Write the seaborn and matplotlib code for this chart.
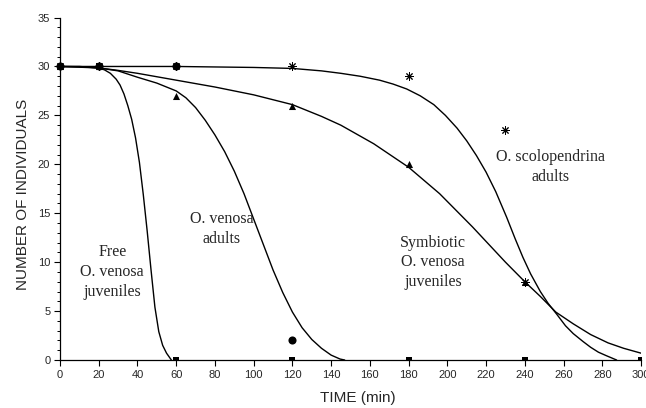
import matplotlib
matplotlib.use('Agg')
import matplotlib.pyplot as plt
from matplotlib.ticker import MultipleLocator
import seaborn as sns

# ── Fitted survival curves ─────────────────────────────────────────────────
free_t = [0, 10, 20, 23, 26, 29, 31, 33, 35, 37, 39, 41, 43, 45, 47, 49, 51, 53, 55, 57.5]
free_n = [30, 30, 29.85, 29.65, 29.3, 28.7, 28.1, 27.2, 26.0, 24.6, 22.7, 20.2, 16.9,
          13.2, 9.2, 5.4, 2.9, 1.5, 0.7, 0]

adult_t = [0, 20, 30, 40, 50, 55, 60, 65, 70, 75, 80, 85, 90, 95, 100, 105, 110, 115,
           120, 125, 130, 135, 140, 144.6, 147]
adult_n = [30, 29.85, 29.55, 28.9, 28.3, 27.9, 27.5, 26.8, 25.8, 24.5, 23.0, 21.3, 19.3,
           17.0, 14.4, 11.8, 9.2, 6.9, 4.9, 3.3, 2.1, 1.2, 0.5, 0.1, 0]

symb_t = [0, 10, 20, 30, 40, 60, 80, 100, 120, 135, 145, 162, 180, 196, 213, 230, 240,
          248, 256, 265, 274, 283, 291, 300]
symb_n = [30, 29.97, 29.85, 29.6, 29.3, 28.6, 27.9, 27.1, 26.1, 24.9, 24.0, 22.1, 19.7,
          17.0, 13.6, 10.0, 8.0, 6.5, 4.9, 3.7, 2.6, 1.75, 1.2, 0.7]

scolo_t = [0, 60, 100, 120, 135, 145, 155, 165, 172, 179, 186, 193, 199, 205, 210, 215,
           220, 225, 230.6, 235, 239, 243, 248, 252, 256.4, 261, 265, 270, 274, 278, 282, 287.4]
scolo_n = [30, 30, 29.9, 29.8, 29.55, 29.3, 29.0, 28.6, 28.2, 27.7, 27.0, 26.1, 25.0,
           23.7, 22.4, 20.9, 19.2, 17.2, 14.6, 12.4, 10.5, 8.8, 7.0, 5.8, 4.7, 3.5, 2.7,
           1.9, 1.3, 0.8, 0.45, 0]

# ── Observed counts ────────────────────────────────────────────────────────
sq_t = [0, 20, 60, 120, 180, 240, 300]
sq_n = [30, 30, 0, 0, 0, 0, 0]
circ_t = [0, 20, 60, 120]
circ_n = [30, 30, 30, 2]
tri_t = [0, 20, 60, 120, 180, 240]
tri_n = [30, 30, 27, 26, 20, 8]
ast_t = [0, 20, 60, 120, 180, 230, 240]
ast_n = [30, 30, 30, 30, 29, 23.5, 8]

sns.set_style('ticks')
plt.rcParams['font.family'] = ['Liberation Sans', 'DejaVu Sans']

fig, ax = plt.subplots(figsize=(6.46, 4.08), dpi=100)
fig.subplots_adjust(left=0.0929, right=0.9923, bottom=0.1176, top=0.957)

for t, n in [(free_t, free_n), (adult_t, adult_n), (symb_t, symb_n), (scolo_t, scolo_n)]:
    sns.lineplot(x=t, y=n, sort=False, estimator=None, color='black', lw=1.0, ax=ax)

sns.scatterplot(x=sq_t, y=sq_n, marker='s', s=24, color='black', edgecolor='black',
                linewidth=0, ax=ax)
sns.scatterplot(x=circ_t, y=circ_n, marker='o', s=34, color='black', edgecolor='black',
                linewidth=0, ax=ax, clip_on=False)
sns.scatterplot(x=tri_t, y=tri_n, marker='^', s=26, color='black', edgecolor='black',
                linewidth=0, ax=ax, clip_on=False)
sns.scatterplot(x=ast_t, y=ast_n, marker=(8, 2, 0), s=30, color='black',
                linewidth=0.7, ax=ax, clip_on=False)

ax.set_xlim(0, 300)
ax.set_ylim(0, 35)
ax.xaxis.set_major_locator(MultipleLocator(20))
ax.yaxis.set_major_locator(MultipleLocator(5))
ax.yaxis.set_minor_locator(MultipleLocator(1))
ax.tick_params(axis='both', which='major', direction='out', length=4, width=0.8,
               labelsize=8, color='black', pad=3)
ax.tick_params(axis='y', which='minor', direction='out', length=2.5, width=0.7, color='black')
for side in ['left', 'bottom']:
    ax.spines[side].set_linewidth(0.9)
    ax.spines[side].set_color('black')
sns.despine(ax=ax)

ax.set_xlabel('TIME (min)', fontsize=11, labelpad=8, x=0.513)
ax.set_ylabel('NUMBER OF INDIVIDUALS', fontsize=11, labelpad=6, y=0.484)

serif = ['Liberation Serif', 'DejaVu Serif']
ax.text(27, 9.0, 'Free\nO. venosa\njuveniles', ha='center', va='center',
        fontsize=11.5, family=serif, linespacing=1.3)
ax.text(83.5, 13.4, 'O. venosa\nadults', ha='center', va='center',
        fontsize=11.5, family=serif, linespacing=1.3)
ax.text(192.7, 10.0, 'Symbiotic\nO. venosa\njuveniles', ha='center', va='center',
        fontsize=11.5, family=serif, linespacing=1.3)
ax.text(253.3, 19.7, 'O. scolopendrina\nadults', ha='center', va='center',
        fontsize=11.5, family=serif, linespacing=1.3)

plt.savefig('out.png', dpi=100)
plt.close()
